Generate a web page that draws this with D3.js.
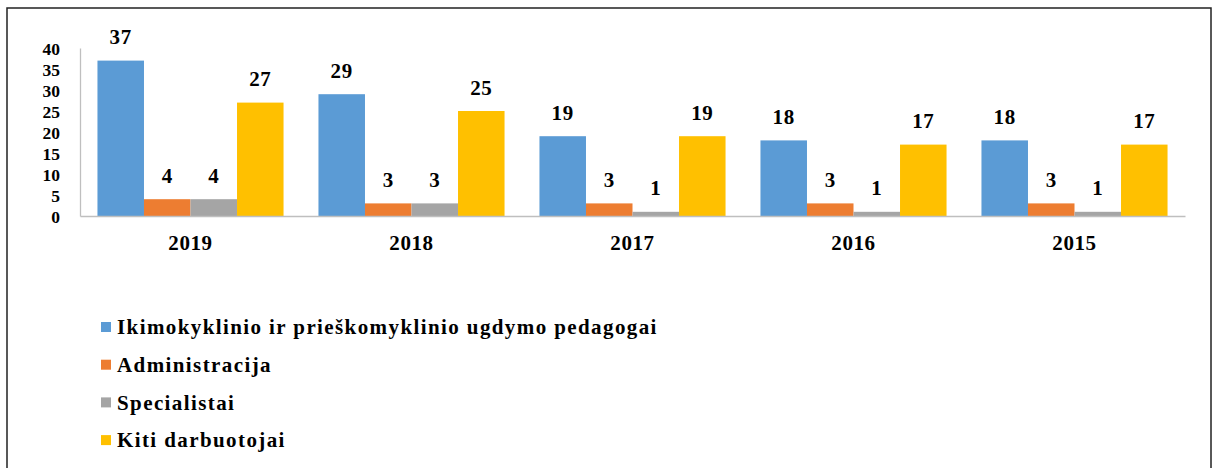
<!DOCTYPE html>
<html><head><meta charset="utf-8">
<script src="https://cdn.jsdelivr.net/npm/d3@7"></script>
</head><body style="margin:0;background:#fff"><svg id="c" width="1214" height="468" style="display:block"></svg>
<script>
const years = ["2019","2018","2017","2016","2015"];
const seriesNames = ["Ikimokyklinio ir prieškomyklinio ugdymo pedagogai","Administracija","Specialistai","Kiti darbuotojai"];
const pedagogai = [37,29,19,18,18];
const administracija = [4,3,3,3,3];
const specialistai = [4,3,1,1,1];
const kiti = [27,25,19,17,17];
const yTicks = [0,5,10,15,20,25,30,35,40];
const colors = ["#5B9BD5","#ED7D31","#A5A5A5","#FFC000"];
const seriesVals = [pedagogai, administracija, specialistai, kiti];

const svg = d3.select("#c");
const FF = '"Liberation Serif"';
svg.attr("font-family","Liberation Serif").attr("font-weight","bold");
svg.append("rect").attr("x",7).attr("y",8).attr("width",1204).attr("height",470)
  .attr("fill","none").attr("stroke","#222").attr("stroke-width",1.5);

const pL=80, pR=1185, pT=48, pB=216;
const x0 = d3.scaleBand().domain(years).range([pL,pR]).paddingInner(0.158).paddingOuter(0.079);
const x1 = d3.scaleBand().domain(d3.range(4)).range([0,x0.bandwidth()]);
const y = d3.scaleLinear().domain([0,40]).range([pB,pT]);

years.forEach((yr,i)=>{
  seriesVals.forEach((vals,s)=>{
    const v = vals[i];
    const bx = x0(yr)+x1(s);
    svg.append("rect").attr("x",bx).attr("y",y(v)).attr("width",x1.bandwidth()).attr("height",y(0)-y(v)).attr("fill",colors[s]);
    svg.append("text").attr("x",bx+x1.bandwidth()/2).attr("y",y(v)-16.5).attr("text-anchor","middle")
      .style("font-family",FF).style("font-weight","bold").style("font-size","21px").style("letter-spacing","0.6px").text(v);
  });
});

const yAxis = svg.append("g").attr("transform",`translate(${pL},0)`)
  .call(d3.axisLeft(y).tickValues(yTicks).tickSize(0).tickPadding(20));
yAxis.attr("font-family",null).attr("font-size",null);
yAxis.select(".domain").attr("stroke","#bfbfbf").attr("stroke-width",1.3);
yAxis.selectAll("text").style("font-family",FF).style("font-weight","bold").style("font-size","17.5px").attr("fill","#000").attr("dy","0.36em");

const xAxis = svg.append("g").attr("transform",`translate(0,${pB})`)
  .call(d3.axisBottom(x0).tickSize(0).tickPadding(19));
xAxis.attr("font-family",null).attr("font-size",null);
xAxis.select(".domain").attr("stroke","#bfbfbf").attr("stroke-width",1.3);
xAxis.selectAll("text").style("font-family",FF).style("font-weight","bold").style("font-size","21px").style("letter-spacing","0.6px").attr("fill","#000");

const lg = svg.append("g");
seriesNames.forEach((n,i)=>{
  const cy = 327 + i*37.7;
  lg.append("rect").attr("x",101).attr("y",cy-5).attr("width",10).attr("height",10).attr("fill",colors[i]);
  lg.append("text").attr("x",117).attr("y",cy).attr("dy","0.35em")
    .style("font-family",FF).style("font-weight","bold").style("font-size","21px").style("letter-spacing","1.4px").text(n);
});
</script></body></html>
